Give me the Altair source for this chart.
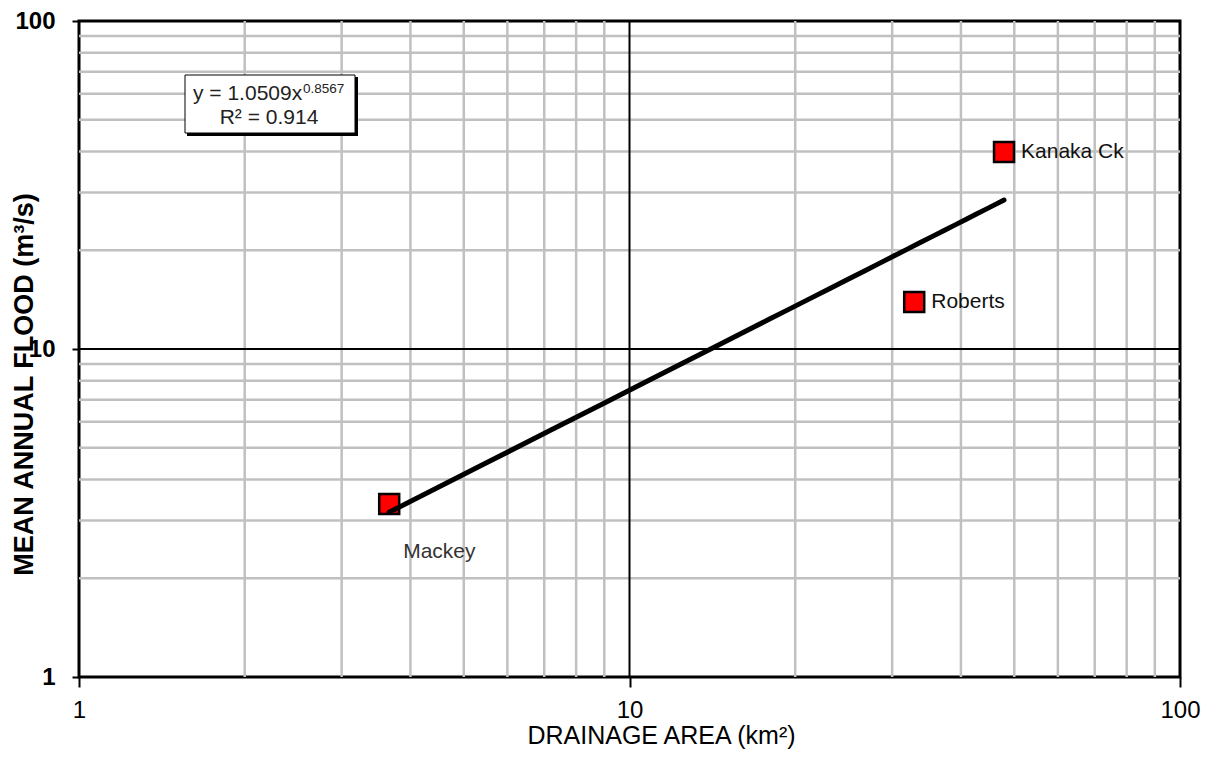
import altair as alt
import pandas as pd

# ---- data ----
site_names = ["Mackey", "Roberts", "Kanaka Ck"]
drainage_area = [3.66, 32.9, 47.9]      # km²
mean_annual_flood = [3.37, 13.9, 39.9]  # m³/s

minor_ticks = [2, 3, 4, 5, 6, 7, 8, 9, 20, 30, 40, 50, 60, 70, 80, 90]
major_ticks = [10]
axis_ticks = [1, 10, 100]

eq_main = "y = 1.0509x"
eq_exp = "0.8567"
eq_r2 = "R² = 0.914"

FONT = "Liberation Sans"

pts = pd.DataFrame({"name": site_names, "area": drainage_area, "flood": mean_annual_flood})
minor_df = pd.DataFrame({"v": minor_ticks})
major_df = pd.DataFrame({"v": major_ticks})
one = pd.DataFrame({"t": [eq_main], "e": [eq_exp], "r": [eq_r2]})

xs = alt.Scale(type="log", domain=[1, 100], nice=False)
ys = alt.Scale(type="log", domain=[1, 100], nice=False)

x_axis = alt.Axis(
    values=axis_ticks, grid=False, domain=False, tickColor="black", tickWidth=2,
    tickSize=10, labelFontSize=24, labelColor="black", labelPadding=11,
    labelFlush=False, labelOverlap=False, labelFont=FONT,
    title="DRAINAGE AREA (km²)", titleFontSize=25, titleFontWeight="normal",
    titleColor="black", titleFont=FONT, titleX=582, titleY=66,
    titleBaseline="alphabetic", titleAlign="center",
)
y_axis = alt.Axis(
    values=axis_ticks, grid=False, domain=False, tickColor="black", tickWidth=2,
    tickSize=7, labelFontSize=24, labelFontWeight="bold", labelColor="black",
    labelPadding=17, labelFlush=False, labelOverlap=False, labelFont=FONT,
    title="MEAN ANNUAL FLOOD (m³/s)", titleFontSize=27, titleFontWeight="bold",
    titleColor="black", titleFont=FONT, titleX=-55, titleY=363,
    titleAngle=270, titleBaseline="middle", titleAlign="center",
)

minor_x = alt.Chart(minor_df).mark_rule(color="#c0c0c0", strokeWidth=2.5).encode(
    x=alt.X("v:Q", scale=xs, axis=x_axis))
minor_y = alt.Chart(minor_df).mark_rule(color="#c0c0c0", strokeWidth=2.5).encode(
    y=alt.Y("v:Q", scale=ys, axis=y_axis))
major_x = alt.Chart(major_df).mark_rule(color="black", strokeWidth=2).encode(
    x=alt.X("v:Q", scale=xs, axis=x_axis))
major_y = alt.Chart(major_df).mark_rule(color="black", strokeWidth=2).encode(
    y=alt.Y("v:Q", scale=ys, axis=y_axis))

box_shadow = alt.Chart(one).mark_rect(fill="black").encode(
    x=alt.value(108), x2=alt.value(279), y=alt.value(56), y2=alt.value(115))
box = alt.Chart(one).mark_rect(fill="white", stroke="black", strokeWidth=1).encode(
    x=alt.value(106), x2=alt.value(276), y=alt.value(54), y2=alt.value(112))
eq1 = alt.Chart(one).mark_text(font=FONT, fontSize=21, color="#222", align="left",
                               baseline="alphabetic").encode(
    text="t:N", x=alt.value(114), y=alt.value(79))
eq1e = alt.Chart(one).mark_text(font=FONT, fontSize=13.5, color="#222", align="left",
                                baseline="alphabetic").encode(
    text="e:N", x=alt.value(224), y=alt.value(72))
eq2 = alt.Chart(one).mark_text(font=FONT, fontSize=21, color="#222", align="center",
                               baseline="alphabetic").encode(
    text="r:N", x=alt.value(190), y=alt.value(103))

points = alt.Chart(pts).mark_point(shape="square", filled=True, fill="#ff0000",
                                   stroke="black", strokeWidth=2.5, size=400, opacity=1).encode(
    x=alt.X("area:Q", scale=xs, axis=x_axis),
    y=alt.Y("flood:Q", scale=ys, axis=y_axis),
)

labels_right = alt.Chart(pts).transform_filter(alt.datum.name != "Mackey").mark_text(
    font=FONT, fontSize=21, color="#111", align="left", baseline="middle", dx=17).encode(
    x=alt.X("area:Q", scale=xs, axis=x_axis),
    y=alt.Y("flood:Q", scale=ys, axis=y_axis),
    text="name:N",
)
labels_below = alt.Chart(pts).transform_filter(alt.datum.name == "Mackey").mark_text(
    font=FONT, fontSize=21, color="#333", align="left", baseline="middle", dx=14, dy=48).encode(
    x=alt.X("area:Q", scale=xs, axis=x_axis),
    y=alt.Y("flood:Q", scale=ys, axis=y_axis),
    text="name:N",
)

trend = alt.Chart(pts).transform_regression("area", "flood", method="pow").mark_line(
    color="black", strokeWidth=5, strokeCap="round").encode(
    x=alt.X("area:Q", scale=xs, axis=x_axis),
    y=alt.Y("flood:Q", scale=ys, axis=y_axis),
)

chart = alt.layer(
    minor_x, minor_y, major_x, major_y, box_shadow, box, eq1, eq1e, eq2,
    points, labels_right, labels_below, trend,
).properties(
    width=1101, height=656,
    autosize=alt.AutoSizeParams(type="none"),
    padding={"left": 71, "top": 13, "right": 23, "bottom": 72},
).configure(
    font=FONT, background="white",
).configure_view(
    stroke="black", strokeWidth=3,
)

chart.save("out.html", embed_options={"renderer": "svg", "actions": False})
